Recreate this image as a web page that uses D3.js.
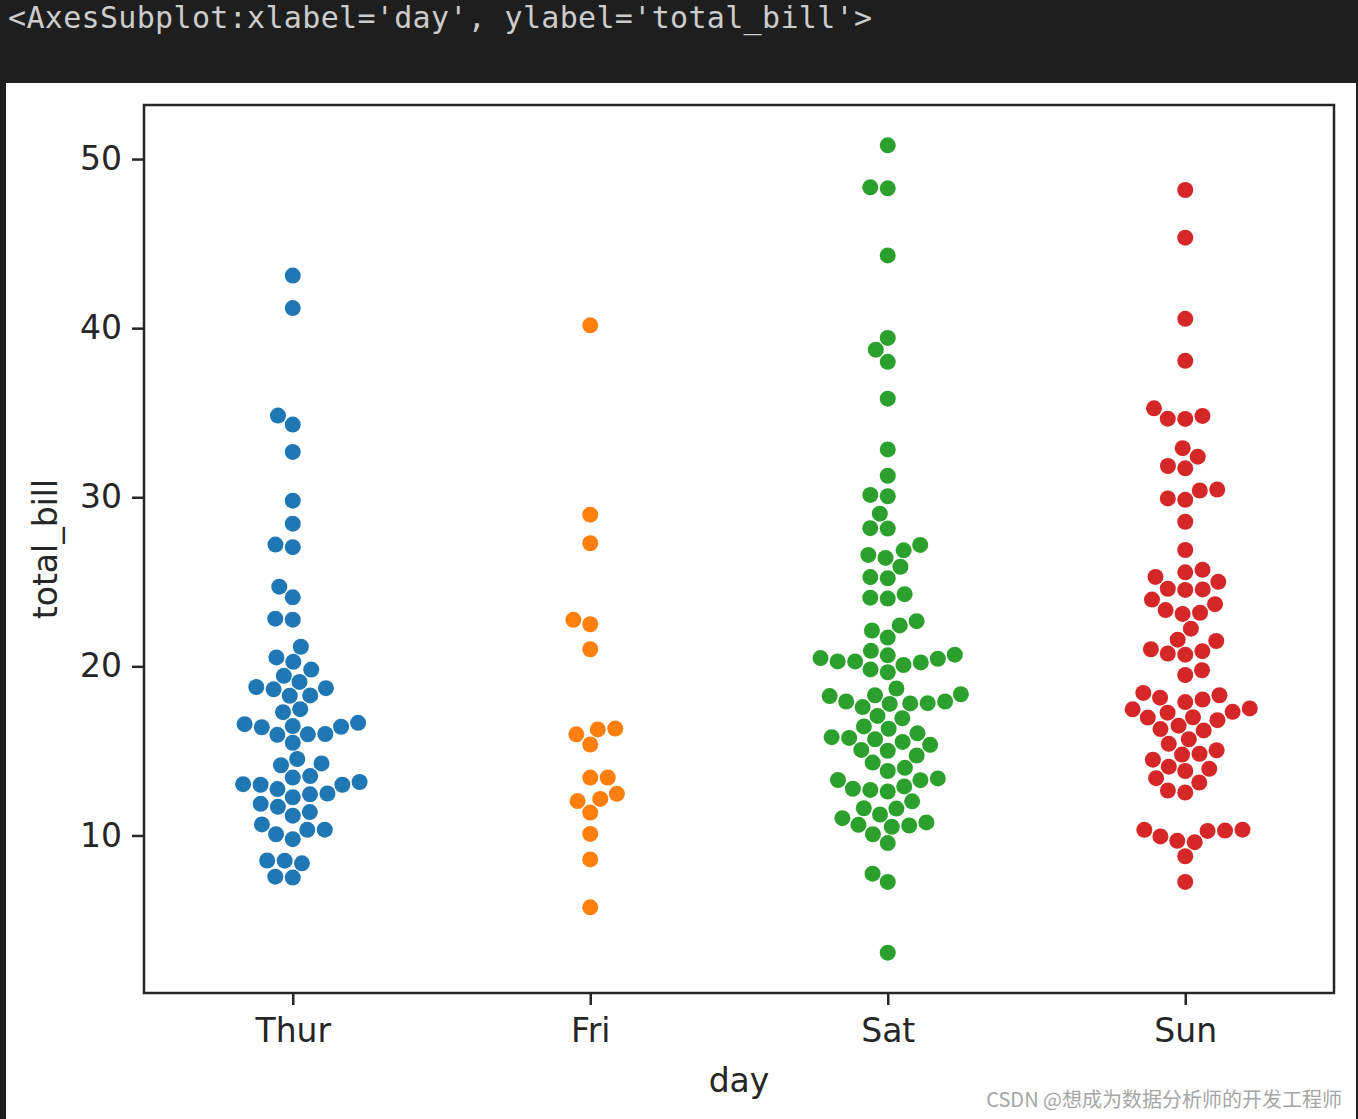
<!DOCTYPE html>
<html>
<head>
<meta charset="utf-8">
<script src="https://cdn.jsdelivr.net/npm/d3@7"></script>
<style>
	body { margin: 0; background: #1e1e1e; }
	svg { display: block; }
</style>
</head>
<body>
<div id="canvas"></div>
<script>
// categories and series (total_bill per day)
const days = ["Thur", "Fri", "Sat", "Sun"];
const thurBill = [27.20, 22.76, 17.29, 19.44, 16.66, 10.07, 32.68, 15.98, 34.83, 13.03, 18.28, 24.71, 21.16,
	10.65, 12.43, 24.08, 11.69, 13.42, 14.26, 15.95, 12.48, 29.80, 8.52, 14.52, 11.38, 22.82, 19.08, 20.27,
	11.17, 12.26, 18.26, 8.51, 10.33, 14.15, 16.00, 13.16, 17.47, 34.30, 41.19, 27.05, 16.43, 8.35, 18.64,
	11.87, 9.78, 7.51, 19.81, 28.44, 15.48, 16.58, 7.56, 10.34, 43.11, 13.00, 13.51, 18.71, 12.74, 13.00,
	16.40, 20.53, 16.47, 18.78];
const friBill = [28.97, 22.49, 5.75, 16.32, 22.75, 40.17, 27.28, 12.03, 21.01, 12.46, 11.35, 15.38, 12.16,
	13.42, 8.58, 15.98, 13.42, 16.27, 10.09];
const satBill = [20.65, 17.92, 20.29, 15.77, 39.42, 19.82, 17.81, 13.37, 12.69, 21.70, 19.65, 9.55, 18.35,
	15.06, 20.69, 17.78, 24.06, 16.31, 16.93, 18.69, 31.27, 16.04, 38.01, 26.41, 11.24, 48.27, 20.29, 13.81,
	11.02, 18.29, 17.59, 20.08, 16.45, 3.07, 20.23, 15.01, 12.02, 17.07, 26.86, 25.28, 14.73, 10.51, 17.92,
	44.30, 22.42, 20.92, 15.36, 20.49, 25.21, 18.24, 14.31, 14.00, 7.25, 10.59, 10.63, 50.81, 15.81, 26.59,
	38.73, 24.27, 12.76, 30.06, 25.89, 48.33, 13.27, 28.17, 12.90, 28.15, 11.59, 7.74, 30.14, 20.45, 13.28,
	22.12, 24.01, 15.69, 11.61, 10.77, 15.53, 10.07, 12.60, 32.83, 35.83, 29.03, 27.18, 22.67, 17.82];
const sunBill = [16.99, 10.34, 21.01, 23.68, 24.59, 25.29, 8.77, 26.88, 15.04, 14.78, 10.27, 35.26, 15.42,
	18.43, 14.83, 21.58, 10.33, 16.29, 16.97, 17.46, 13.94, 9.68, 30.40, 18.29, 22.23, 32.40, 28.55, 18.04,
	12.54, 10.29, 34.81, 9.94, 25.56, 19.49, 38.07, 23.95, 25.71, 17.31, 29.93, 14.07, 13.13, 17.26, 24.55,
	19.77, 29.85, 48.17, 25.00, 13.39, 16.49, 21.50, 12.66, 16.21, 13.81, 17.51, 24.52, 20.76, 31.71, 7.25,
	31.85, 16.82, 32.90, 17.89, 14.48, 9.60, 34.63, 34.65, 23.33, 45.35, 23.17, 40.55, 20.69, 20.90, 30.46,
	18.15, 23.10, 15.69];
const yTicks = [10, 20, 30, 40, 50];

const series = [thurBill, friBill, satBill, sunBill];
const colors = ["#1f77b4", "#ff7f0e", "#2ca02c", "#d62728"];

const W = 1358, H = 1119;
const box = { left: 144, right: 1334, top: 105, bottom: 993 };

// y limits the way matplotlib autoscales them (5% margin)
const allBills = series.flat();
const dMin = d3.min(allBills), dMax = d3.max(allBills);
const pad = (dMax - dMin) * 0.05;
const yLimits = [dMin - pad, dMax + pad];

const svg = d3.select("#canvas").append("svg").attr("width", W).attr("height", H);

// notebook frame
svg.append("rect").attr("width", W).attr("height", H).attr("fill", "#1e1e1e");
svg.append("rect").attr("x", 6).attr("y", 83).attr("width", W - 8).attr("height", H - 83).attr("fill", "#fff");
svg.append("text")
	.attr("x", 8).attr("y", 28)
	.attr("textLength", 864).attr("lengthAdjust", "spacing")
	.style("font-family", "'DejaVu Sans Mono', monospace").style("font-size", "30px")
	.attr("fill", "#cccccc")
	.text("<AxesSubplot:xlabel='day', ylabel='total_bill'>");

const x = d3.scalePoint().domain(days).range([box.left, box.right]).padding(0.5);
const y = d3.scaleLinear().domain(yLimits).range([box.bottom, box.top]);

// ---- swarm layout, done like seaborn 0.11 in matplotlib display units (dpi 100, 6.4x4.8 fig)
const dpi = 100;
const figW = 6.4 * dpi, figH = 4.8 * dpi;
const cellW = (0.9 - 0.125) / 1, cellH = (0.88 - 0.11) / 1;
const ax0 = figW * 0.125, ax1 = figW * (0.125 + cellW);
const ay0 = figH * (0.88 - cellH), ay1 = figH * (0.88 - 0);
const outw = ax1 - ax0, outh = ay1 - ay0;
const xs = 1 / (3.5 - -0.5), xt = 0.5 * xs;
const ys = 1 / (yLimits[1] - yLimits[0]), yt = (-yLimits[0]) * ys;
const mSx = outw * xs, mTx = outw * xt + ax0;
const mSy = outh * ys, mTy = outh * yt + ay0;
const diam = (Math.sqrt(25) + 0) * (dpi / 72);

// numpy's default argsort (introsort, insertion sort below 17 items)
function npArgsort(v) {
	const t = v.map((_, i) => i);
	const swap = (a, b) => { const tmp = t[a]; t[a] = t[b]; t[b] = tmp; };
	let pl = 0, pr = v.length - 1;
	const stack = [];
	for (;;) {
		while (pr - pl > 15) {
			const pm = pl + ((pr - pl) >> 1);
			if (v[t[pm]] < v[t[pl]]) swap(pm, pl);
			if (v[t[pr]] < v[t[pm]]) swap(pr, pm);
			if (v[t[pm]] < v[t[pl]]) swap(pm, pl);
			const vp = v[t[pm]];
			let pi = pl, pj = pr - 1;
			swap(pm, pj);
			for (;;) {
				do { ++pi; } while (v[t[pi]] < vp);
				do { --pj; } while (vp < v[t[pj]]);
				if (pi >= pj) break;
				swap(pi, pj);
			}
			swap(pi, pr - 1);
			if (pi - pl < pr - pi) { stack.push(pi + 1, pr); pr = pi - 1; }
			else { stack.push(pl, pi - 1); pl = pi + 1; }
		}
		for (let pi = pl + 1; pi <= pr; ++pi) {
			const vi = t[pi], vp = v[vi];
			let pj = pi, pk = pi - 1;
			while (pj > pl && vp < v[t[pk]]) t[pj--] = t[pk--];
			t[pj] = vi;
		}
		if (!stack.length) break;
		pr = stack.pop(); pl = stack.pop();
	}
	return t;
}

function beeswarm(vals, i) {
	const sorted = vals.slice().sort((a, b) => a - b);
	const pts = sorted.map(v => ({ v, x: mSx * i + mTx, y: mSy * v + mTy }));
	const midline = pts[0].x;
	const swarm = [pts[0]];
	for (const p of pts.slice(1)) {
		const nb = [];
		for (let j = swarm.length - 1; j >= 0; j--) {
			if (p.y - swarm[j].y < diam) nb.push(swarm[j]);
			else break;
		}
		nb.reverse();
		const cand = [p.x];
		let leftFirst = true;
		nb.forEach(q => {
			const dy = p.y - q.y;
			const dx = Math.sqrt(Math.max(diam * diam - dy * dy, 0)) * 1.05;
			const cl = q.x - dx, cr = q.x + dx;
			if (leftFirst) cand.push(cl, cr); else cand.push(cr, cl);
			leftFirst = !leftFirst;
		});
		const order = npArgsort(cand.map(c => Math.abs(c - midline)));
		let chosen = cand[order[0]];
		if (nb.length) {
			for (const k of order) {
				const c = cand[k];
				if (nb.every(q => (q.x - c) * (q.x - c) + (q.y - p.y) * (q.y - p.y) >= diam * diam)) { chosen = c; break; }
			}
		}
		swarm.push({ v: p.v, x: chosen, y: p.y });
	}
	const k = (box.right - box.left) / outw;
	return swarm.map(s => ({ v: s.v, dx: (s.x - midline) * k }));
}

series.forEach((vals, k) => {
	svg.append("g").selectAll("circle")
		.data(beeswarm(vals, k))
		.join("circle")
		.attr("cx", d => x(days[k]) + d.dx).attr("cy", d => y(d.v))
		.attr("r", 8)
		.attr("fill", colors[k]);
});

// axes
const font = "'DejaVu Sans', sans-serif";
const yAxis = svg.append("g").attr("transform", `translate(${box.left},0)`)
	.call(d3.axisLeft(y).tickValues(yTicks).tickSize(12).tickPadding(10));
const xAxis = svg.append("g").attr("transform", `translate(0,${box.bottom})`)
	.call(d3.axisBottom(x).tickSize(12).tickPadding(14));
[yAxis, xAxis].forEach(g => {
	g.select(".domain").remove();
	g.selectAll(".tick line").attr("stroke", "#262626").attr("stroke-width", 2.5);
	g.selectAll(".tick text").attr("fill", "#262626").style("font-family", font).style("font-size", "33px");
});

svg.append("rect")
	.attr("x", box.left).attr("y", box.top)
	.attr("width", box.right - box.left).attr("height", box.bottom - box.top)
	.attr("fill", "none").attr("stroke", "#262626").attr("stroke-width", 2.5);

svg.append("text")
	.attr("x", (box.left + box.right) / 2).attr("y", 1092)
	.attr("text-anchor", "middle").attr("fill", "#262626")
	.style("font-family", font).style("font-size", "33px")
	.text("day");
svg.append("text")
	.attr("transform", `translate(57,${(box.top + box.bottom) / 2}) rotate(-90)`)
	.attr("text-anchor", "middle").attr("fill", "#262626")
	.style("font-family", font).style("font-size", "33px")
	.text("total_bill");

// watermark
svg.append("text")
	.attr("x", 1342).attr("y", 1107)
	.attr("text-anchor", "end").attr("fill", "#a6a6a6")
	.style("font-family", "'Noto Sans CJK SC', sans-serif").style("font-size", "20px")
	.text("CSDN @想成为数据分析师的开发工程师");
</script>
</body>
</html>
